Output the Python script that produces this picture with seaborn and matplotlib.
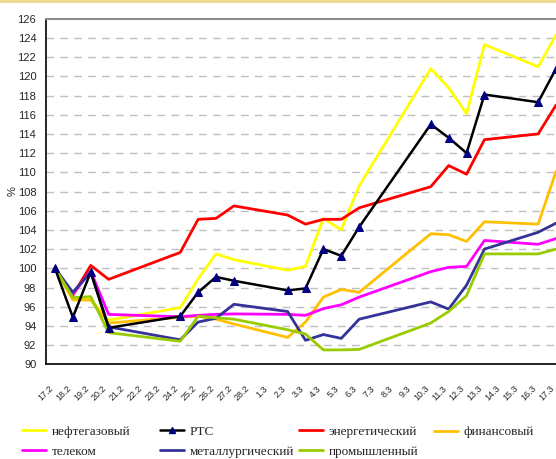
import matplotlib
matplotlib.use("Agg")
import matplotlib.pyplot as plt
import seaborn as sns
import numpy as np
import pandas as pd
from matplotlib.lines import Line2D

# Category axis (all calendar days)
categories = ["17.2", "18.2", "19.2", "20.2", "21.2", "22.2", "23.2", "24.2", "25.2",
              "26.2", "27.2", "28.2", "1.3", "2.3", "3.3", "4.3", "5.3", "6.3", "7.3",
              "8.3", "9.3", "10.3", "11.3", "12.3", "13.3", "14.3", "15.3", "16.3", "17.3"]
# Days with observations
trade_days = ["17.2", "18.2", "19.2", "20.2", "24.2", "25.2", "26.2", "27.2", "2.3", "3.3",
              "4.3", "5.3", "6.3", "10.3", "11.3", "12.3", "13.3", "16.3", "17.3"]

neftegaz = [100, 96.8, 96.7, 94.6, 95.9, 98.9, 101.5, 100.9, 99.8, 100.2,
            105.2, 104.0, 108.6, 120.8, 118.8, 116.1, 123.3, 121.0, 124.3]
rts = [100, 94.9, 99.6, 93.8, 95.0, 97.5, 99.1, 98.7, 97.7, 97.9,
       102.0, 101.3, 104.3, 115.0, 113.6, 112.0, 118.1, 117.3, 120.8]
energ = [100, 97.2, 100.3, 98.85, 101.65, 105.1, 105.2, 106.5, 105.55, 104.6,
         105.1, 105.1, 106.3, 108.5, 110.7, 109.8, 113.4, 114.0, 117.0]
finans = [100, 96.7, 96.7, 94.3, 94.9, 95.0, 94.7, 94.2, 92.8, 94.4,
          97.0, 97.8, 97.5, 103.6, 103.5, 102.8, 104.85, 104.6, 110.1]
telekom = [100, 97.3, 99.7, 95.2, 94.95, 95.1, 95.2, 95.25, 95.2, 95.1,
           95.8, 96.2, 97.0, 99.65, 100.1, 100.2, 102.9, 102.5, 103.1]
metall = [100, 97.5, 99.6, 93.9, 92.55, 94.4, 94.8, 96.25, 95.5, 92.5,
          93.1, 92.7, 94.7, 96.5, 95.75, 98.25, 102.0, 103.75, 104.7]
prom = [100, 96.95, 97.05, 93.3, 92.4, 95.0, 94.85, 94.7, 93.6, 93.15,
        91.5, 91.5, 91.55, 94.3, 95.5, 97.15, 101.5, 101.5, 102.0]

series_names = ["нефтегазовый", "РТС", "энергетический", "финансовый",
                "телеком", "металлургический", "промышленный"]
series_values = [neftegaz, rts, energ, finans, telekom, metall, prom]
colors = ["#FFFF00", "#000000", "#FF0000", "#FFC000", "#FF00FF", "#333399", "#99CC00"]
y_ticks = list(range(90, 127, 2))

sns.set_style("white")
plt.rcParams["font.family"] = ["Liberation Sans", "DejaVu Sans"]

W, H = 556, 459
fig = plt.figure(figsize=(W / 100, H / 100), dpi=100)
ax = fig.add_axes([46 / W, 1 - 364.3 / H, 519 / W, (364.3 - 18.7) / H])

xpos = [categories.index(d) for d in trade_days]
handles = {}
for name, vals, col in zip(series_names, series_values, colors):
    df = pd.DataFrame({"x": xpos, "y": vals})
    if name == "РТС":
        sns.lineplot(data=df, x="x", y="y", ax=ax, color=col, linewidth=1.8,
                     marker="^", markersize=5.2, markerfacecolor="#000080",
                     markeredgecolor="#000080", zorder=10, legend=False)
        handles[name] = Line2D([], [], color=col, lw=1.8, marker="^", markersize=4.2,
                               markerfacecolor="#000080", markeredgecolor="#000080")
    else:
        sns.lineplot(data=df, x="x", y="y", ax=ax, color=col, linewidth=2.0,
                     zorder=5, legend=False)
        handles[name] = Line2D([], [], color=col, lw=2.0)

ax.set_xlim(-0.5, len(categories) - 0.5)
ax.set_ylim(90, 126)
ax.set_yticks(y_ticks)
ax.set_yticklabels([str(v) for v in y_ticks], fontsize=8)
for v in y_ticks[1:-1]:
    ax.axhline(v, color="#BFBFBF", lw=1.0, linestyle=(0, (5.5, 4.5)), zorder=1)

ax.set_xticks(range(len(categories)))
ax.set_xticklabels(categories, rotation=45, ha="right", va="top", fontsize=6.5)
ax.set_xticks(np.arange(-0.5, len(categories), 1.0), minor=True)
ax.tick_params(axis="x", which="major", length=0, pad=14)
ax.tick_params(axis="x", which="minor", length=4, width=1, direction="out", color="black")
ax.tick_params(axis="y", which="major", length=4, width=1, direction="out", color="black", pad=3)
ax.set_xlabel("")
ax.set_ylabel("%", fontsize=8, labelpad=0)

for s in ["left", "bottom"]:
    ax.spines[s].set_color("black")
    ax.spines[s].set_linewidth(1.2)
ax.spines["top"].set_color("#8C8C8C")
ax.spines["top"].set_linewidth(1.5)
ax.spines["right"].set_visible(False)

# top decorative border line
fig.add_artist(Line2D([0, 1], [1 - 1 / H, 1 - 1 / H], transform=fig.transFigure,
                      color="#F0D68A", lw=2))

# legend: four columns at fixed positions
cols = [(22, ["нефтегазовый", "телеком"]),
        (160, ["РТС", "металлургический"]),
        (299, ["энергетический", "промышленный"]),
        (434, ["финансовый"])]
for x0, names in cols:
    yc = 441.5 if len(names) == 2 else 432.0
    fig.legend([handles[n] for n in names], names, loc="center left",
               bbox_to_anchor=(x0 / W, 1 - yc / H), frameon=False,
               borderpad=0, borderaxespad=0, handlelength=1.85, handletextpad=0.4,
               labelspacing=0.6, prop={"family": "Liberation Serif", "size": 9.5})

fig.savefig("out.png", dpi=100)
